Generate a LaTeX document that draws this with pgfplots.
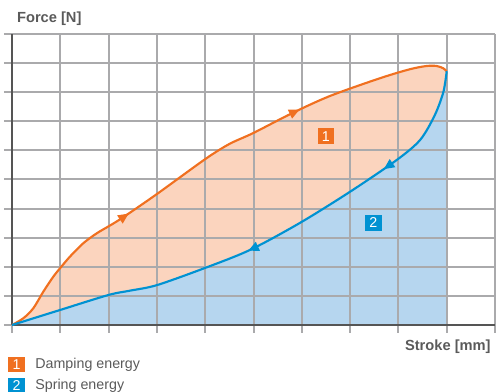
\documentclass[border=0pt]{standalone}
\usepackage{pgfplots}
\pgfplotsset{compat=1.18}
\usepackage{fontspec}
\setmainfont{Liberation Sans}
\usetikzlibrary{decorations.markings,arrows.meta}
\definecolor{orangeline}{RGB}{240,112,32}
\definecolor{orangefill}{RGB}{251,212,190}
\definecolor{blueline}{RGB}{0,146,210}
\definecolor{bluefill}{RGB}{182,214,239}
\definecolor{gridgray}{RGB}{170,170,172}
\definecolor{axisgray}{RGB}{85,85,85}
\definecolor{labelgray}{RGB}{90,90,90}

% damping path (loading), origin -> end of stroke
\pgfplotstableread{
x y
0 0
0.234 0.23
0.441 0.574
0.648 1.144
0.855 1.66
1.00 1.96
1.20 2.35
1.476 2.81
1.754 3.15
2.03 3.42
2.30 3.70
3.00 4.50
4.00 5.70
4.50 6.22
5.00 6.60
5.80 7.28
6.584 7.87
7.619 8.48
8.24 8.79
8.586 8.90
8.793 8.90
8.93 8.82
9.00 8.72
}\damping
% spring path (unloading), end of stroke -> origin
\pgfplotstableread{
x y
9.00 8.72
8.93 8.00
8.75 7.20
8.45 6.36
7.965 5.67
7.00 4.58
5.963 3.51
4.928 2.58
3.996 1.96
3.00 1.37
2.443 1.18
1.994 1.03
0.994 0.515
0 0
}\spring

\begin{document}
\begin{tikzpicture}[font=\fontsize{10.7}{12.5}\selectfont]
\begin{axis}[
    anchor=origin, at={(0pt,0pt)},
    x=36.225pt, y=21.825pt,
    xmin=0, xmax=10, ymin=0, ymax=10,
    axis x line*=bottom, axis y line*=left,
    axis line style={line width=1.5pt, color=axisgray},
    xtick={0,...,10}, ytick={0,...,10},
    xticklabels={}, yticklabels={},
    grid=major,
    grid style={line width=1.5pt, color=gridgray},
    tick align=outside, major tick length=6pt,
    tick style={line width=1.5pt, color=gridgray},
    set layers,
    clip=false,
]
% fills under the curves
\addplot[on layer=axis background, draw=none, fill=orangefill, smooth]
    table {\damping} \closedcycle;
\addplot[on layer=axis background, draw=none, fill=bluefill, smooth]
    table {\spring} \closedcycle;

% curves with direction arrows
\addplot[orangeline, line width=1.6pt, smooth, no markers,
    decoration={markings,
      mark=at position 0.315 with {\arrow{Triangle[length=8pt,width=7pt]}},
      mark=at position 0.70 with {\arrow{Triangle[length=8pt,width=7pt]}}},
    postaction={decorate}]
    table {\damping};
\addplot[blueline, line width=1.6pt, smooth, no markers,
    decoration={markings,
      mark=at position 0.23 with {\arrow{Triangle[length=8pt,width=7pt]}},
      mark=at position 0.53 with {\arrow{Triangle[length=8pt,width=7pt]}}},
    postaction={decorate}]
    table {\spring};

\node[fill=orangeline, text=white, minimum width=12.5pt, minimum height=12pt, inner sep=0pt]
    at (axis cs:6.50,6.49) {1};
\node[fill=blueline, text=white, minimum width=12.5pt, minimum height=12pt, inner sep=0pt]
    at (axis cs:7.48,3.51) {2};
\end{axis}

\node[anchor=west, text=labelgray, font=\fontsize{11}{12.5}\selectfont\bfseries]
    at (0.3pt,229.5pt) {Force [N]};
\node[anchor=east, text=labelgray, font=\fontsize{11}{12.5}\selectfont\bfseries]
    at (362.5pt,-16.5pt) {Stroke [mm]};

\node[fill=orangeline, text=white, minimum width=12.5pt, minimum height=11.5pt, inner sep=0pt]
    at (3.4pt,-29.6pt) {1};
\node[anchor=west, text=labelgray] at (14pt,-29.6pt) {Damping energy};
\node[fill=blueline, text=white, minimum width=12.5pt, minimum height=11.5pt, inner sep=0pt]
    at (3.4pt,-45.6pt) {2};
\node[anchor=west, text=labelgray] at (14pt,-45.3pt) {Spring energy};

\pgfresetboundingbox
\path (-9pt,-50.25pt) rectangle (363pt,243.75pt);
\end{tikzpicture}
\end{document}
